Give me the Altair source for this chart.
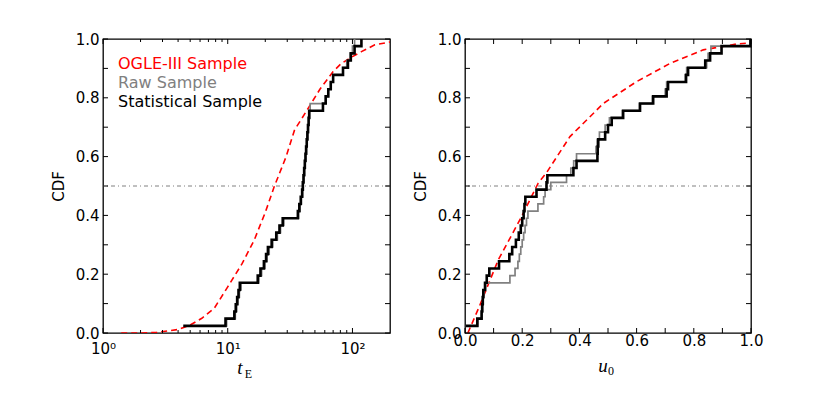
import altair as alt
import pandas as pd

# ---------------- data ----------------
# event values (the empirical CDFs are computed by Vega's cume_dist)
tE_stat = [4.4, 9.6, 11.3, 11.6, 11.9, 12.2, 12.5, 17.4, 18.3, 19.5, 20.3, 21.0,
           22.5, 24.5, 26.0, 27.6, 36.5, 37.5, 38.5, 39.5, 40.0, 40.5, 41.0, 41.5,
           42.0, 42.5, 43.0, 43.5, 44.0, 44.5, 45.0, 58, 61, 64, 67, 70, 84, 92,
           97, 104, 118]
tE_raw = [4.5, 9.8, 11.5, 11.8, 12.1, 12.4, 12.8, 17.8, 18.7, 19.9, 20.7, 21.5,
          23.0, 25.0, 26.5, 28.2, 37.0, 38.0, 39.0, 39.8, 40.3, 40.8, 41.3, 41.8,
          42.3, 42.8, 43.3, 43.8, 44.3, 44.8, 45.3, 45.8, 61, 64, 67, 70, 84, 90,
          96, 100, 104]
u0_stat = [0.003, 0.043, 0.058, 0.060, 0.062, 0.064, 0.070, 0.076, 0.085, 0.119,
           0.155, 0.165, 0.178, 0.188, 0.195, 0.200, 0.205, 0.208, 0.211, 0.250,
           0.285, 0.288, 0.379, 0.390, 0.463, 0.464, 0.466, 0.490, 0.500, 0.513,
           0.553, 0.612, 0.658, 0.705, 0.710, 0.773, 0.780, 0.840, 0.857, 0.897,
           0.998]
u0_raw = [0.003, 0.045, 0.060, 0.062, 0.064, 0.066, 0.072, 0.157, 0.175, 0.185,
          0.190, 0.195, 0.200, 0.205, 0.210, 0.215, 0.220, 0.255, 0.275, 0.280,
          0.300, 0.355, 0.370, 0.380, 0.390, 0.458, 0.462, 0.470, 0.490, 0.505,
          0.550, 0.610, 0.655, 0.700, 0.705, 0.770, 0.775, 0.845, 0.850, 0.860,
          0.998]
# OGLE-III cumulative distributions (smooth curves)
ogle_tE_x = [1.4, 2.0, 2.7, 4.0, 5.0, 6.2, 7.8, 10, 13, 16.3, 20, 23.6, 29.4,
             34.3, 45, 55, 70, 81.5, 100, 118, 151, 200]
ogle_tE_cdf = [0.0, 0.0, 0.002, 0.012, 0.027, 0.05, 0.084, 0.157, 0.235, 0.316,
               0.41, 0.498, 0.60, 0.69, 0.77, 0.83, 0.889, 0.917, 0.94, 0.957,
               0.98, 0.99]
ogle_u0_x = [0.01, 0.05, 0.116, 0.198, 0.256, 0.285, 0.367, 0.484, 0.60, 0.717,
             0.833, 0.95, 1.0]
ogle_u0_cdf = [0.0, 0.09, 0.248, 0.396, 0.51, 0.545, 0.668, 0.781, 0.855, 0.917,
               0.963, 0.983, 0.987]

median_level = [0.5]

cdf_ticks = [0.0, 0.1, 0.2, 0.3, 0.4, 0.5, 0.6, 0.7, 0.8, 0.9, 1.0]
cdf_labels = [0.0, 0.2, 0.4, 0.6, 0.8, 1.0]
log_major = [1, 10, 100]
log_major_text = ["10\u2070", "10\u00b9", "10\u00b2"]
log_minor = [2, 3, 4, 5, 6, 7, 8, 9, 20, 30, 40, 50, 60, 70, 80, 90]
u0_ticks = [0.0, 0.1, 0.2, 0.3, 0.4, 0.5, 0.6, 0.7, 0.8, 0.9, 1.0]
u0_labels = [0.0, 0.2, 0.4, 0.6, 0.8, 1.0]

legend_labels = ["OGLE-III Sample", "Raw Sample", "Statistical Sample"]
legend_colors = ["#ff0000", "#808080", "#000000"]

# ---------------- styling ----------------
W, H = 287, 294
FONT = "DejaVu Sans"
RED, GRAY, BLACK = "#ff0000", "#808080", "#000000"


def panel(xscale, xaxis, ev_stat, ev_raw, curve_x, curve_y, major, minor,
          title_parts, show_legend, width):
    ys = alt.Scale(domain=[0, 1], nice=False, zero=False)
    yaxis = alt.Axis(values=cdf_labels, format=".1f", ticks=False, domain=False,
                     grid=False, labelFontSize=15, labelPadding=4,
                     labelFlush=False, labelOverlap=False, title="CDF",
                     titleFontSize=15, titleFontWeight="normal",
                     titlePadding=9)

    def X(f):
        return alt.X(f, scale=xscale, axis=xaxis)

    def Y(f):
        return alt.Y(f, scale=ys, axis=yaxis)

    layers = []
    # median reference line
    layers.append(
        alt.Chart(pd.DataFrame({"y": median_level}))
        .mark_rule(color=GRAY, strokeWidth=1, strokeDash=[4, 3, 1, 3])
        .encode(y=Y("y:Q"))
    )
    # OGLE-III smooth curve
    layers.append(
        alt.Chart(pd.DataFrame({"x": curve_x, "cdf": curve_y}))
        .mark_line(color=RED, strokeWidth=1.6, strokeDash=[6, 4], clip=True)
        .encode(x=X("x:Q"), y=Y("cdf:Q"))
    )
    # raw sample (gray) and statistical sample (black) step CDFs
    for ev, col, sw in [(ev_raw, GRAY, 1.7), (ev_stat, BLACK, 2.6)]:
        layers.append(
            alt.Chart(pd.DataFrame({"x": ev}))
            .transform_window(cdf="cume_dist()", sort=[alt.SortField("x")])
            .mark_line(color=col, strokeWidth=sw, interpolate="step-after")
            .encode(x=X("x:Q"), y=Y("cdf:Q"))
        )
    # inward ticks: x (bottom & top)
    for vals, ln in [(major, 5), (minor, 3)]:
        if not vals:
            continue
        df = pd.DataFrame({"x": vals})
        layers.append(
            alt.Chart(df).mark_rule(color=BLACK, strokeWidth=1)
            .encode(x=X("x:Q"), y=alt.value(H), y2=alt.value(H - ln))
        )
        layers.append(
            alt.Chart(df).mark_rule(color=BLACK, strokeWidth=1)
            .encode(x=X("x:Q"), y=alt.value(0), y2=alt.value(ln))
        )
    # inward ticks: y (left & right)
    dfy = pd.DataFrame({"cdf": cdf_ticks})
    layers.append(
        alt.Chart(dfy).mark_rule(color=BLACK, strokeWidth=1)
        .encode(y=Y("cdf:Q"), x=alt.value(0), x2=alt.value(5))
    )
    layers.append(
        alt.Chart(dfy).mark_rule(color=BLACK, strokeWidth=1)
        .encode(y=Y("cdf:Q"), x=alt.value(width - 5), x2=alt.value(width))
    )
    # legend text
    if show_legend:
        for i, (lab, col) in enumerate(zip(legend_labels, legend_colors)):
            layers.append(
                alt.Chart(pd.DataFrame({"a": [0]}))
                .mark_text(text=lab, color=col, font=FONT, fontSize=16,
                           align="left", baseline="alphabetic")
                .encode(x=alt.value(15), y=alt.value(29.5 + 19.3 * i))
            )
    # x-axis title as math-like text (main symbol + subscript)
    main, sub, mx, my, sx, sy = title_parts
    layers.append(
        alt.Chart(pd.DataFrame({"a": [0]}))
        .mark_text(text=main, font="Liberation Serif", fontStyle="italic",
                   fontSize=19, color=BLACK, align="center", baseline="middle")
        .encode(x=alt.value(mx), y=alt.value(my))
    )
    layers.append(
        alt.Chart(pd.DataFrame({"a": [0]}))
        .mark_text(text=sub, font="Liberation Serif", fontSize=12,
                   color=BLACK, align="center", baseline="middle")
        .encode(x=alt.value(sx), y=alt.value(sy))
    )
    return alt.layer(*layers).properties(width=width, height=H)


label_expr = " : ".join(
    f"datum.value == {v} ? '{t}'" for v, t in zip(log_major, log_major_text)
) + " : ''"

left = panel(
    alt.Scale(type="log", domain=[1, 200], nice=False),
    alt.Axis(values=log_major, labelExpr=label_expr, ticks=False, domain=False,
             grid=False, labelFontSize=15, labelPadding=8, labelFlush=False,
             labelOverlap=False, title=None),
    tE_stat, tE_raw, ogle_tE_x, ogle_tE_cdf, log_major, log_minor,
    ("t", "E", 137, H + 35, 145.5, H + 41), True, W,
)
right = panel(
    alt.Scale(domain=[0, 1], nice=False, zero=False),
    alt.Axis(values=u0_labels, format=".1f", ticks=False, domain=False,
             grid=False, labelFontSize=15, labelPadding=0, labelFlush=False,
             labelOverlap=False, title=None),
    u0_stat, u0_raw, ogle_u0_x, ogle_u0_cdf, u0_ticks, [],
    ("u", "0", 138, H + 33, 146, H + 38), False, 286,
)

chart = (
    alt.hconcat(left, right, spacing=20)
    .properties(padding={"left": 42, "top": 23, "right": 5, "bottom": 5})
    .configure_view(stroke=BLACK, strokeWidth=1.3)
    .configure_axis(labelFont=FONT, titleFont=FONT, labelColor=BLACK,
                    titleColor=BLACK)
)

chart.save("out.html", embed_options={"renderer": "svg", "actions": False})
